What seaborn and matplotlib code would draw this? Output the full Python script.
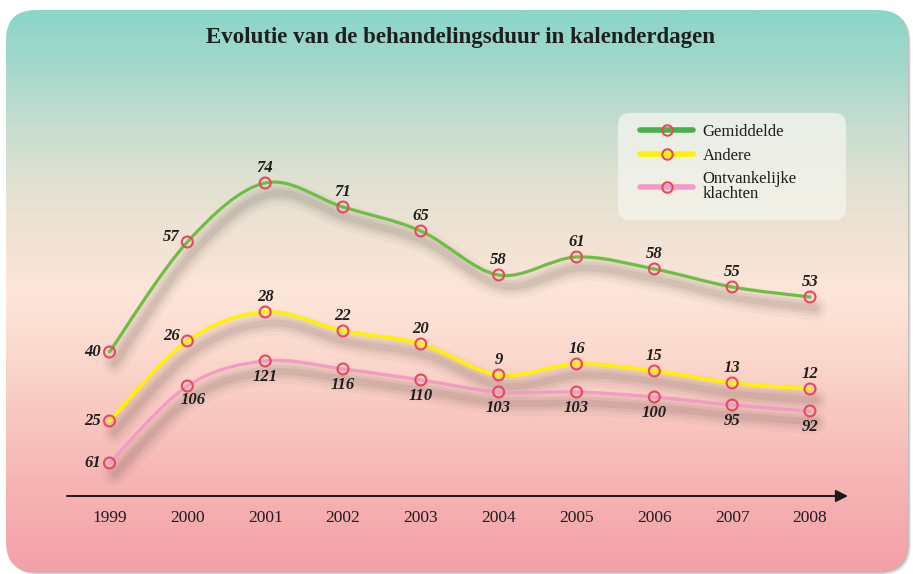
import numpy as np
import pandas as pd
import matplotlib
matplotlib.use("Agg")
import matplotlib.pyplot as plt
import seaborn as sns
import matplotlib.transforms as mtransforms
from matplotlib.path import Path
from matplotlib.patches import PathPatch, FancyBboxPatch
from matplotlib.lines import Line2D
from matplotlib.colors import LinearSegmentedColormap

# ── data ──
YEARS = [1999, 2000, 2001, 2002, 2003, 2004, 2005, 2006, 2007, 2008]
GEMIDDELDE = [40, 57, 74, 71, 65, 58, 61, 58, 55, 53]
ANDERE = [25, 26, 28, 22, 20, 9, 16, 15, 13, 12]
ONTVANKELIJK = [61, 106, 121, 116, 110, 103, 103, 100, 95, 92]

# the original is not drawn to scale: height of each point above the time axis (px)
GEM_LEVEL = [144, 254, 313, 289, 265, 221, 239, 227, 209, 199]
AND_LEVEL = [75, 155, 184, 165, 152, 121, 132, 125, 113, 107]
ONT_LEVEL = [33, 110, 135, 127, 116, 104, 104, 99, 91, 85]

TITLE = "Evolutie van de behandelingsduur in kalenderdagen"
NAMES = ["Gemiddelde", "Andere", "Ontvankelijke\nklachten"]

W, H = 913, 574
MARKER_RED = "#e8485c"

sns.set_theme(style="white")
plt.rcParams["font.family"] = ["Liberation Serif", "DejaVu Serif"]

fig = plt.figure(figsize=(W / 100, H / 100), dpi=100)

# ── background card with gradient ──
bg = fig.add_axes([0, 0, 1, 1], zorder=0)
bg.set_xlim(0, W)
bg.set_ylim(H, 0)
bg.axis("off")

for i, a in enumerate([0.10, 0.14, 0.22]):
    sh = FancyBboxPatch((6 + 3 - i, 10 + 3 - i), 902, 562,
                        boxstyle="round,pad=0,rounding_size=30",
                        facecolor="#555555", edgecolor="none", alpha=a, zorder=-2)
    bg.add_patch(sh)

stops = [(0.00, "#89d6c9"), (0.09, "#a2d8cb"), (0.20, "#c5ddd0"),
         (0.30, "#e0e1d1"), (0.41, "#f2e3d4"), (0.50, "#fde6d9"),
         (0.59, "#fcdcd0"), (0.70, "#f9cbc2"), (0.82, "#f7b8b6"),
         (1.00, "#f4a0a8")]
cmap = LinearSegmentedColormap.from_list("card", stops)
grad = np.linspace(0, 1, 400).reshape(-1, 1)
card = FancyBboxPatch((6, 10), 902, 562, boxstyle="round,pad=0,rounding_size=30",
                      facecolor="none", edgecolor="none", zorder=-1)
bg.add_patch(card)
im = bg.imshow(grad, cmap=cmap, aspect="auto", extent=(6, 908, 572, 10),
               interpolation="bilinear", zorder=0)
im.set_clip_path(card)

legend_box = FancyBboxPatch((618, 113), 228, 107, boxstyle="round,pad=0,rounding_size=12",
                            facecolor="#f3f3ec", edgecolor="none", alpha=0.8, zorder=2)
bg.add_patch(legend_box)

bg.text(460, 37, TITLE, ha="center", va="center", fontsize=16.5,
        fontweight="bold", color="#1e1e1e", zorder=3)

# ── chart axes: bottom edge is the time arrow ──
ax = fig.add_axes([0, 78 / H, 1, 496 / H], zorder=1)
ax.patch.set_alpha(0)
step = (810 - 109.5) / 9
ax.set_xlim(1999 - 109.5 / step, 2008 + (W - 810) / step)
ax.set_ylim(0, 496)
sns.despine(ax=ax, left=True, bottom=True)
ax.set_yticks([])
ax.set_xticks(YEARS)
ax.set_xticklabels([str(y) for y in YEARS])
ax.tick_params(axis="x", length=0, pad=10, labelsize=12.5, labelcolor="#1e1e1e")

ax.annotate("", xy=(848 / W, 0), xytext=(67 / W, 0), xycoords="axes fraction",
            arrowprops=dict(arrowstyle="-|>", color="#1a1a1a", lw=1.4,
                            mutation_scale=18, shrinkA=0, shrinkB=0),
            annotation_clip=False)


def smooth_path(xs, ys):
    """Catmull-Rom curve through the points as cubic Bezier segments."""
    p = np.column_stack([xs, ys]).astype(float)
    ext = np.vstack([p[0], p, p[-1]])
    verts = [tuple(p[0])]
    codes = [Path.MOVETO]
    for i in range(len(p) - 1):
        p0, p1, p2, p3 = ext[i], ext[i + 1], ext[i + 2], ext[i + 3]
        c1 = p1 + (p2 - p0) / 6
        c2 = p2 - (p3 - p1) / 6
        verts += [tuple(c1), tuple(c2), tuple(p2)]
        codes += [Path.CURVE4] * 3
    return Path(verts, codes)


series = [
    (GEMIDDELDE, GEM_LEVEL, "#6cbf43", 2.3, "above"),
    (ANDERE, AND_LEVEL, "#fff200", 2.6, "above"),
    (ONTVANKELIJK, ONT_LEVEL, "#f39bc6", 2.3, "below"),
]

shadow_tr = mtransforms.offset_copy(ax.transData, fig=fig, x=5, y=-11, units="dots")

for vals, lvl, color, lw, side in series:
    path = smooth_path(YEARS, lvl)
    for w, a in [(18, 0.04), (13, 0.05), (9, 0.07), (5, 0.09)]:
        ax.add_patch(PathPatch(path, facecolor="none", edgecolor="#5a4a45",
                               lw=w, alpha=a, transform=shadow_tr,
                               capstyle="round", joinstyle="round"))
    ax.add_patch(PathPatch(path, facecolor="none", edgecolor=color, lw=lw,
                           capstyle="round", zorder=3))

    df = pd.DataFrame({"year": YEARS, "level": lvl})
    sns.scatterplot(data=df, x="year", y="level", ax=ax, marker="o", s=62,
                    facecolors="none", edgecolor=MARKER_RED, linewidth=1.5,
                    zorder=4, legend=False)

    for i, (x, y, v) in enumerate(zip(YEARS, lvl, vals)):
        if i == 0:
            off = (-17, 0)
        elif i == 1:
            off = (-16, 5) if side == "above" else (6, -14)
        else:
            off = (0, 15) if side == "above" else (0, -16)
        ax.annotate(str(v), (x, y), xytext=off, textcoords="offset pixels",
                    ha="center", va="center", fontsize=12, fontweight="bold",
                    fontstyle="italic", color="#1e1e1e", zorder=5)

ax.set_xlabel("")
ax.set_ylabel("")

# ── legend ──
handles = [Line2D([], [], color=c, lw=4, marker="o", markersize=7.5,
                  markerfacecolor="none", markeredgecolor=MARKER_RED,
                  markeredgewidth=1.5, solid_capstyle="round")
           for _, _, c, _, _ in series]
handles[0].set_color("#4cb04a")
handles[0].set_markeredgecolor(MARKER_RED)
leg = ax.legend(handles, NAMES, loc="upper left", frameon=False,
                bbox_to_anchor=(640 / W, 1 - 124 / H), bbox_transform=fig.transFigure,
                borderaxespad=0, borderpad=0, handlelength=3.2, handletextpad=0.55,
                labelspacing=0.45, fontsize=12)
for t in leg.get_texts():
    t.set_color("#1e1e1e")
    t.set_linespacing(0.95)

fig.savefig("out.png", dpi=100)
